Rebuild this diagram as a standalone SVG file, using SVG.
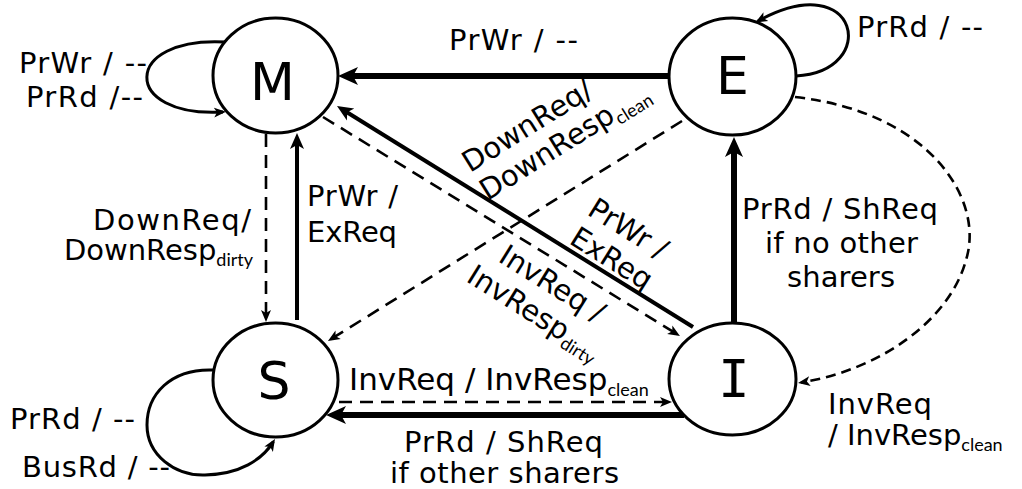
<svg xmlns="http://www.w3.org/2000/svg" width="1022" height="489" viewBox="0 0 1022 489">
  <style>
    .node ellipse { fill: #fff; stroke: #000; stroke-width: 3; }
    .node text { font-family: "DejaVu Sans", Verdana, sans-serif; font-size: 52px; text-anchor: middle; fill: #000; }
    .lbl { font-family: "DejaVu Sans", Verdana, sans-serif; font-size: 29px; fill: #000; }
    .mid { text-anchor: middle; }
    .end { text-anchor: end; }
    .sub { font-family: Lato, "DejaVu Sans Condensed", sans-serif; font-size: 18px; }
    .thick { stroke: #000; stroke-width: 6; fill: none; }
    .medium { stroke: #000; stroke-width: 4; fill: none; }
    .dash { stroke: #000; stroke-width: 2.6; stroke-dasharray: 13 8; fill: none; }
    .dash-fine { stroke: #000; stroke-width: 2.6; stroke-dasharray: 10 6; fill: none; }
    .loop { stroke: #000; stroke-width: 3; fill: none; }
  </style>
  <defs>
    <marker id="ahBig" viewBox="0 0 20 20" markerUnits="userSpaceOnUse" markerWidth="20" markerHeight="20" refX="12" refY="10" orient="auto">
      <path d="M0,1 L20,10 L0,19 L5,10 z" fill="#000"/>
    </marker>
    <marker id="ahMid" viewBox="0 0 16 16" markerUnits="userSpaceOnUse" markerWidth="16" markerHeight="16" refX="10" refY="8" orient="auto">
      <path d="M0,1 L16,8 L0,15 L4,8 z" fill="#000"/>
    </marker>
    <marker id="ahThin" viewBox="0 0 12 12" markerUnits="userSpaceOnUse" markerWidth="12" markerHeight="12" refX="9" refY="6" orient="auto">
      <path d="M0,1 L12,6 L0,11 L3,6 z" fill="#000"/>
    </marker>
  </defs>

  <g id="connectors">
    <!-- E to M: processor write, no bus action -->
    <line class="thick" x1="669" y1="76" x2="346" y2="76" marker-end="url(#ahBig)"/>
    <!-- S to M: PrWr with ExReq -->
    <line class="medium" x1="297" y1="320" x2="297" y2="139" marker-end="url(#ahMid)"/>
    <!-- I to M: PrWr with ExReq -->
    <line class="medium" x1="693" y1="327" x2="342.1" y2="109.2" marker-end="url(#ahMid)"/>
    <!-- I to E: PrRd, no other sharers -->
    <line class="thick" x1="734" y1="323" x2="734" y2="145" marker-end="url(#ahBig)"/>
    <!-- I to S: PrRd, other sharers -->
    <line class="thick" x1="684" y1="415" x2="334" y2="415" marker-end="url(#ahBig)"/>
    <!-- M to S: downgrade, dirty response -->
    <line class="dash" x1="266" y1="134" x2="266" y2="319" marker-end="url(#ahThin)"/>
    <!-- E to S: downgrade, clean response -->
    <line class="dash" x1="682" y1="121" x2="330.5" y2="339.4" marker-end="url(#ahThin)"/>
    <!-- M to I: invalidate, dirty response -->
    <line class="dash" x1="323" y1="117" x2="677.4" y2="334.4" marker-end="url(#ahThin)"/>
    <!-- S to I: invalidate, clean response -->
    <line class="dash" x1="339" y1="402" x2="669" y2="402" marker-end="url(#ahThin)"/>
    <!-- E to I: invalidate, clean response -->
    <path class="dash-fine" d="M795,97 C930,112 985,200 966,260 C950,320 880,370 801,382.5" marker-end="url(#ahThin)"/>
    <!-- self loops on M, E and S -->
    <path class="loop" d="M226,42 C121,36 121,118 223,112" marker-end="url(#ahThin)"/>
    <path class="loop" d="M796,76 C880,72 860,-35 758,21" marker-end="url(#ahThin)"/>
    <path class="loop" d="M214,370 C170,368 147,395 147,425 C147,455 175,476 205,475 C240,474 262,460 273.4,441.6" marker-end="url(#ahThin)"/>
  </g>

  <g id="node-M" class="node">
    <ellipse cx="275.5" cy="75.5" rx="62.5" ry="57.5"/>
    <text x="272.5" y="100">M</text>
  </g>
  <g id="node-E" class="node">
    <ellipse cx="732.5" cy="76.5" rx="63.5" ry="58.5"/>
    <text x="732.5" y="94">E</text>
  </g>
  <g id="node-S" class="node">
    <ellipse cx="275.5" cy="380" rx="62.5" ry="57"/>
    <text x="274" y="399">S</text>
  </g>
  <g id="node-I" class="node">
    <ellipse cx="732.5" cy="379" rx="63.5" ry="56"/>
    <text x="734" y="397" style="font-family:'DejaVu Sans Mono', monospace">I</text>
  </g>

  <g id="labels">
    <text class="lbl" x="449" y="50" textLength="129">PrWr / --</text>
    <text class="lbl" x="19" y="73" textLength="128">PrWr / --</text>
    <text class="lbl" x="26" y="107" textLength="117">PrRd /--</text>
    <text class="lbl" x="857" y="37" textLength="126">PrRd / --</text>
    <text class="lbl" x="10" y="429" textLength="125">PrRd / --</text>
    <text class="lbl" x="22" y="477" textLength="148">BusRd / --</text>

    <text class="lbl" x="742" y="219" textLength="196">PrRd / ShReq</text>
    <text class="lbl" x="765" y="253" textLength="153">if no other</text>
    <text class="lbl" x="787" y="287" textLength="108">sharers</text>

    <text class="lbl" x="307" y="206" textLength="91">PrWr /</text>
    <text class="lbl" x="307" y="242" textLength="90">ExReq</text>

    <text class="lbl" x="93" y="230" textLength="158">DownReq/</text>
    <text class="lbl end" x="253" y="260">DownResp<tspan class="sub" dy="6">dirty</tspan></text>

    <text class="lbl" x="349" y="390" style="font-size:31px">InvReq / InvResp<tspan class="sub" dy="6">clean</tspan></text>
    <text class="lbl" x="404" y="452" textLength="199">PrRd / ShReq</text>
    <text class="lbl" x="390" y="483" textLength="229">if other sharers</text>

    <text class="lbl" x="828" y="414" textLength="104">InvReq</text>
    <text class="lbl" x="828" y="445">/ InvResp<tspan class="sub" dy="6">clean</tspan></text>

    <g transform="translate(470,173) rotate(-32)">
      <text class="lbl" x="0" y="0">DownReq/</text>
      <text class="lbl" x="0" y="33">DownResp<tspan class="sub" dy="6">clean</tspan></text>
    </g>
    <g transform="translate(547,292) rotate(32)">
      <text class="lbl mid" x="0" y="0">InvReq /</text>
      <text class="lbl mid" x="0" y="34">InvResp<tspan class="sub" dy="6">dirty</tspan></text>
    </g>
    <g transform="translate(586,214) rotate(32)">
      <text class="lbl" x="0" y="0">PrWr /</text>
      <text class="lbl" x="0" y="34">ExReq</text>
    </g>
  </g>
</svg>
